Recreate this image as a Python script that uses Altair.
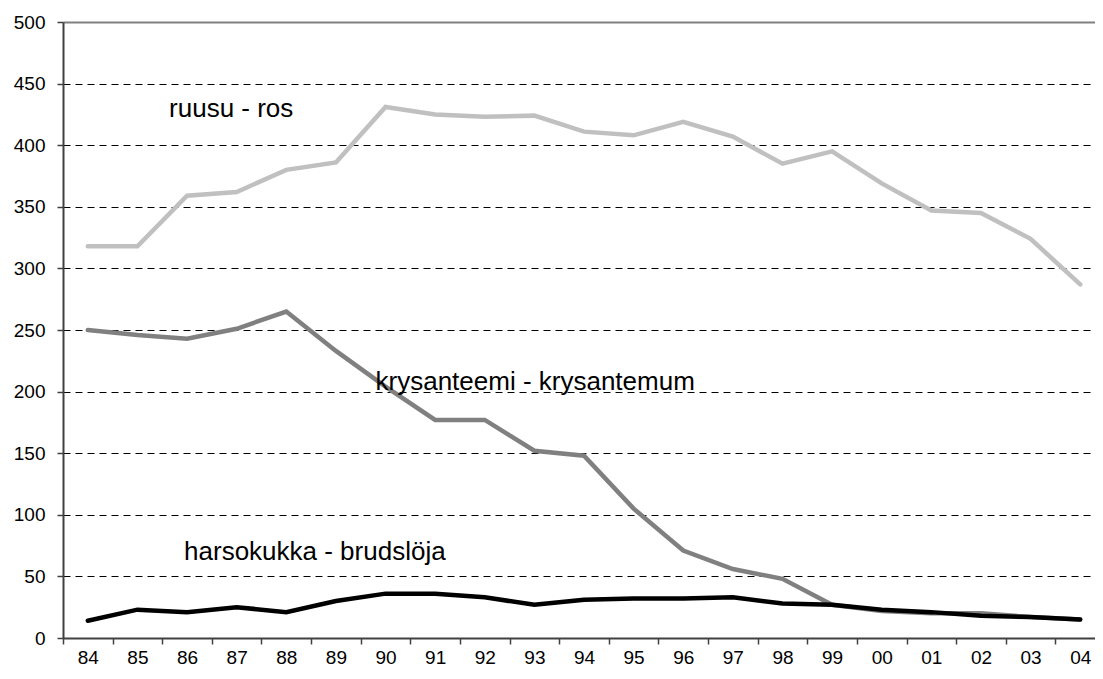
import altair as alt
import pandas as pd

years = ["84", "85", "86", "87", "88", "89", "90", "91", "92", "93", "94",
         "95", "96", "97", "98", "99", "00", "01", "02", "03", "04"]
ruusu = [318, 318, 359, 362, 380, 386, 431, 425, 423, 424, 411,
         408, 419, 407, 385, 395, 369, 347, 345, 324, 287]
krysanteemi = [250, 246, 243, 251, 265, 233, 204, 177, 177, 152, 148,
               105, 71, 56, 48, 27, 22, 20, 20, 17, 15]
harsokukka = [14, 23, 21, 25, 21, 30, 36, 36, 33, 27, 31,
              32, 32, 33, 28, 27, 23, 21, 18, 17, 15]

series_names = ["ruusu - ros", "krysanteemi - krysantemum", "harsokukka - brudslöja"]
series_values = [ruusu, krysanteemi, harsokukka]
series_colors = ["#c0c0c0", "#808080", "#000000"]

label_texts = ["ruusu - ros", "krysanteemi - krysantemum", "harsokukka - brudslöja"]
label_years = ["86", "90", "86"]
label_values = [423, 201, 63]
label_dx = [-18, -10, -3]

FONT = "Liberation Sans"
PLOT_W = 1032      # visible part of the plot area
STEP_RANGE = 1042  # full category range (last band runs past the page edge)

rows = []
for name, vals in zip(series_names, series_values):
    for y, v in zip(years, vals):
        rows.append({"year": y, "value": v, "series": name})
df = pd.DataFrame(rows)

x_scale = alt.Scale(type="band", domain=years, paddingInner=0, paddingOuter=0,
                    range=[0, STEP_RANGE])

x_enc = alt.X(
    "year:N",
    sort=years,
    bandPosition=0.5,
    scale=x_scale,
    axis=alt.Axis(
        title=None, labelAngle=0, tickBand="extent", grid=False,
        domainColor="#404040", domainWidth=2, tickColor="#404040", tickWidth=1.5,
        tickSize=6, labelPadding=4, labelFont=FONT, labelFontSize=19,
        labelColor="#000000", labelFlush=False,
    ),
)
y_enc = alt.Y(
    "value:Q",
    scale=alt.Scale(domain=[0, 500], nice=False, zero=True),
    axis=alt.Axis(
        title=None, values=list(range(0, 501, 50)), grid=True,
        gridColor=alt.condition("datum.value == 500", alt.value("#808080"), alt.value("#000000")),
        gridDash=alt.condition("datum.value == 500", alt.value([1, 0]), alt.value([7, 5])),
        gridWidth=alt.condition("datum.value == 500", alt.value(2), alt.value(1)),
        domainColor="#404040", domainWidth=2, tickColor="#404040", tickWidth=1.5,
        tickSize=6, labelPadding=12, labelFont=FONT, labelFontSize=19,
        labelColor="#000000", labelFlush=False,
    ),
)

layers = []
for name, col in zip(series_names, series_colors):
    layers.append(
        alt.Chart(df)
        .transform_filter(alt.datum.series == name)
        .mark_line(color=col, strokeWidth=4.5, strokeJoin="miter", strokeCap="round")
        .encode(x=x_enc, y=y_enc)
    )

for t, yr, v, dx in zip(label_texts, label_years, label_values, label_dx):
    ldf = pd.DataFrame({"year": [yr], "value": [v], "text": [t]})
    layers.append(
        alt.Chart(ldf)
        .mark_text(align="left", baseline="alphabetic", dx=dx, font=FONT,
                   fontSize=26, color="#000000")
        .encode(x=alt.X("year:N", sort=years, bandPosition=0.5, scale=x_scale),
                y="value:Q", text="text:N")
    )

chart = (
    alt.layer(*layers)
    .properties(
        width=PLOT_W, height=616,
        autosize=alt.AutoSizeParams(type="none"),
        padding={"left": 55, "top": 14, "right": 0, "bottom": 33},
        background="#ffffff",
    )
    .configure_view(stroke=None)
)

chart.save("out.html", embed_options={"renderer": "svg", "actions": False})
